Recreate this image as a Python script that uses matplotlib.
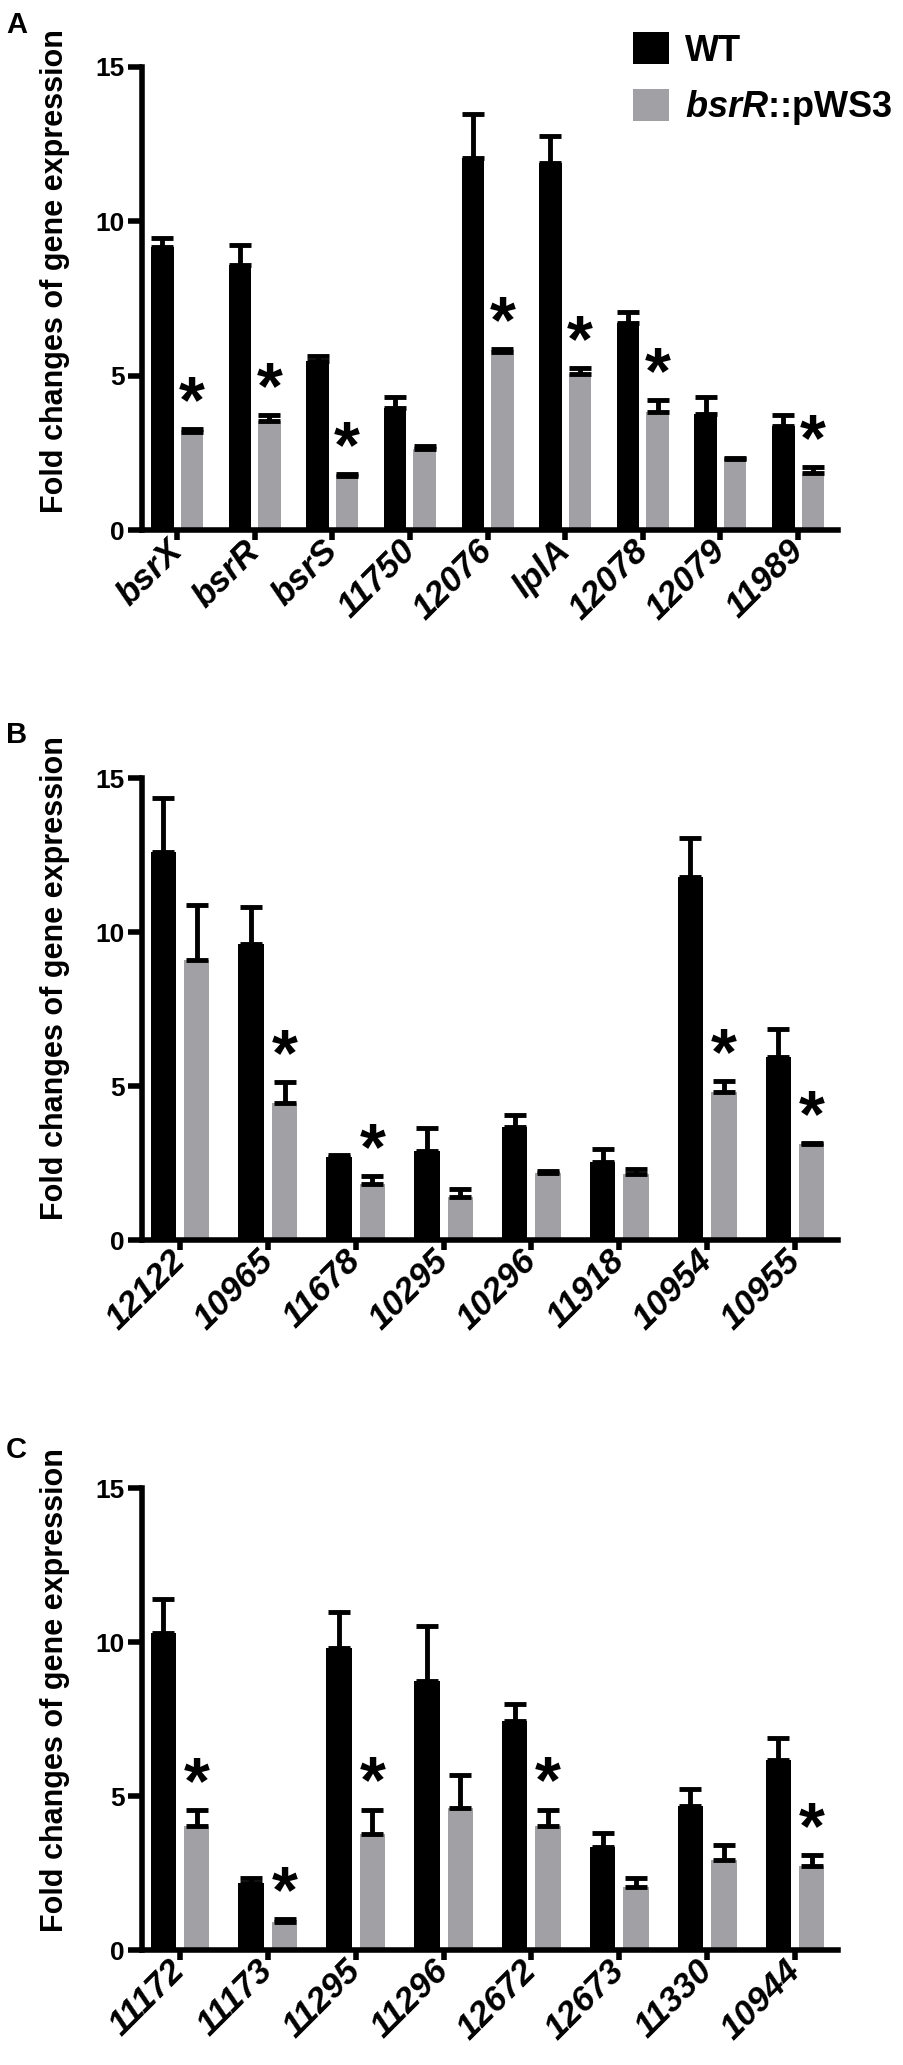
import matplotlib.pyplot as plt
import numpy as np
from matplotlib.patches import Patch

plt.rcParams['font.family'] = 'Liberation Sans'
plt.rcParams['font.weight'] = 'bold'
plt.rcParams['mathtext.fontset'] = 'custom'
plt.rcParams['mathtext.it'] = 'Liberation Sans:italic:bold'
plt.rcParams['mathtext.rm'] = 'Liberation Sans:bold'

# panel A
genes_a = ['bsrX', 'bsrR', 'bsrS', '11750', '12076', 'lplA', '12078', '12079', '11989']
wt_a = [9.15, 8.59, 5.47, 3.94, 12.03, 11.87, 6.69, 3.75, 3.37]
wt_a_err = [0.31, 0.64, 0.16, 0.36, 1.44, 0.90, 0.38, 0.55, 0.34]
mut_a = [3.18, 3.54, 1.75, 2.61, 5.75, 5.04, 3.83, 2.29, 1.83]
mut_a_err = [0.09, 0.17, 0.07, 0.10, 0.11, 0.20, 0.39, 0.05, 0.20]
sig_a = [1, 1, 1, 0, 1, 1, 1, 0, 1]

# panel B
genes_b = ['12122', '10965', '11678', '10295', '10296', '11918', '10954', '10955']
wt_b = [12.59, 9.62, 2.71, 2.89, 3.68, 2.52, 11.79, 5.94]
wt_b_err = [1.75, 1.20, 0.05, 0.74, 0.37, 0.42, 1.27, 0.90]
mut_b = [9.10, 4.44, 1.81, 1.41, 2.19, 2.15, 4.82, 3.11]
mut_b_err = [1.79, 0.69, 0.27, 0.23, 0.05, 0.16, 0.33, 0.05]
sig_b = [0, 1, 1, 0, 0, 0, 1, 1]

# panel C
genes_c = ['11172', '11173', '11295', '11296', '12672', '12673', '11330', '10944']
wt_c = [10.29, 2.19, 9.80, 8.74, 7.42, 3.34, 4.69, 6.18]
wt_c_err = [1.10, 0.15, 1.18, 1.79, 0.56, 0.46, 0.55, 0.71]
mut_c = [4.01, 0.92, 3.76, 4.60, 4.03, 2.06, 2.93, 2.73]
mut_c_err = [0.52, 0.09, 0.80, 1.07, 0.53, 0.29, 0.47, 0.34]
sig_c = [1, 1, 1, 0, 1, 0, 0, 1]

W, H = 904, 2065
gray = '#a1a1a5'
fig = plt.figure(figsize=(W/100, H/100), dpi=100)


def add_panel(top, bottom, genes, wt, wt_err, mut, mut_err, sig, xl, xr):
    ax = fig.add_axes([141.7/W, 1 - bottom/H, (838 - 141.7)/W, (bottom - top)/H])
    n = len(genes)
    x = np.arange(n)
    w, off = 0.29, 0.19
    ax.bar(x - off, wt, w, color='black', zorder=2)
    ax.bar(x + off, mut, w, color=gray, zorder=2)
    ax.errorbar(x - off, wt, yerr=[np.zeros(n), wt_err], fmt='none', ecolor='black',
                elinewidth=3.5, capsize=8, capthick=3.5, zorder=3)
    ax.errorbar(x + off, mut, yerr=[np.zeros(n), mut_err], fmt='none', ecolor='black',
                elinewidth=3.5, capsize=8, capthick=3.5, zorder=3)
    for i in range(n):
        if sig[i]:
            ax.annotate('*', xy=(x[i] + off, mut[i] + mut_err[i]), xytext=(0, 5),
                        textcoords='offset points', ha='center', va='baseline',
                        fontsize=48, fontweight='bold')
    ax.set_xlim(xl, n - 1 + xr)
    ax.set_ylim(0, 15)
    ax.set_yticks([0, 5, 10, 15])
    for s in ['top', 'right']:
        ax.spines[s].set_visible(False)
    for s in ['left', 'bottom']:
        ax.spines[s].set_linewidth(4)
    ax.tick_params(axis='y', length=10, width=4, labelsize=19, pad=2)
    ax.tick_params(axis='x', length=7, width=4, pad=4.5)
    ax.set_xticks(x)
    ax.set_xticklabels(genes, rotation=45, rotation_mode='anchor', ha='right', va='center',
                       fontsize=25, style='italic', fontweight='bold')
    return ax


add_panel(66.7, 530, genes_a, wt_a, wt_a_err, mut_a, mut_a_err, sig_a, -0.455, 0.515)
add_panel(778, 1240, genes_b, wt_b, wt_b_err, mut_b, mut_b_err, sig_b, -0.436, 0.489)
add_panel(1488, 1950, genes_c, wt_c, wt_c_err, mut_c, mut_c_err, sig_c, -0.436, 0.489)

for letter, ybase, ylab in [('A', 33, 271), ('B', 743, 978), ('C', 1458, 1690)]:
    fig.text(6/W, 1 - ybase/H, letter, fontsize=21, fontweight='bold', va='baseline')
    fig.text(55/W, 1 - ylab/H, 'Fold changes of gene expression', rotation=90,
             ha='center', va='center', fontsize=22, fontweight='bold')

fig.legend(handles=[Patch(facecolor='black'), Patch(facecolor=gray)],
           labels=['WT', r'$\mathit{bsrR}$::pWS3'], loc='upper left',
           bbox_to_anchor=(633/W, 1 - 32/H), frameon=False,
           handlelength=1.0, handleheight=1.0, handletextpad=0.45, labelspacing=0.55,
           borderpad=0, borderaxespad=0, prop={'weight': 'bold', 'size': 26})

fig.savefig('out.png', dpi=100)
